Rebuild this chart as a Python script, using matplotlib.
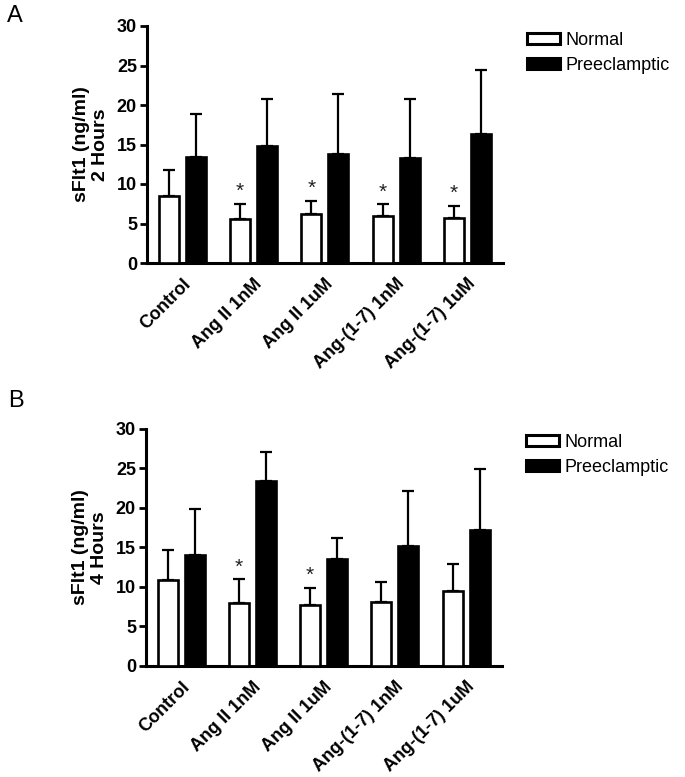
import matplotlib
matplotlib.use("Agg")
import matplotlib.pyplot as plt
import numpy as np
from matplotlib.patches import Patch

plt.rcParams['font.family'] = ['Liberation Sans', 'DejaVu Sans']

categories = ["Control", "Ang II 1nM", "Ang II 1uM", "Ang-(1-7) 1nM", "Ang-(1-7) 1uM"]
series_names = ["Normal", "Preeclamptic"]

# Panel A: 2 hours
a_normal = [8.5, 5.57, 6.16, 5.95, 5.66]
a_normal_err = [3.3, 1.9, 1.7, 1.5, 1.6]
a_pre = [13.45, 14.8, 13.76, 13.3, 16.3]
a_pre_err = [5.35, 6.0, 7.6, 7.5, 8.1]
a_star = [False, True, True, True, True]

# Panel B: 4 hours
b_normal = [10.86, 7.9, 7.69, 8.07, 9.5]
b_normal_err = [3.8, 3.04, 2.2, 2.53, 3.39]
b_pre = [14.07, 23.4, 13.48, 15.17, 17.2]
b_pre_err = [5.73, 3.7, 2.7, 7.0, 7.7]
b_star = [False, True, True, False, False]

yticks = [0, 5, 10, 15, 20, 25, 30]

W, H = 685, 777
fig = plt.figure(figsize=(W/100, H/100), dpi=100)

def draw(rect, normal, nerr, pre, perr, stars, ylabel, letter, letter_xy, leg_xy):
    ax = fig.add_axes(rect)
    x = np.arange(len(categories))
    off = 0.19
    bw = 0.28
    ax.bar(x - off, normal, bw, color='white', edgecolor='black', linewidth=1.9, zorder=3)
    ax.bar(x + off, pre, bw, color='black', edgecolor='black', linewidth=1.9, zorder=3)
    ax.errorbar(x - off, normal, yerr=[np.zeros(len(nerr)), nerr], fmt='none',
                ecolor='black', elinewidth=1.6, capsize=4, capthick=1.6, zorder=2)
    ax.errorbar(x + off, pre, yerr=[np.zeros(len(perr)), perr], fmt='none',
                ecolor='black', elinewidth=1.6, capsize=4, capthick=1.6, zorder=2)
    for i, s in enumerate(stars):
        if s:
            ax.text(x[i] - off, normal[i] + nerr[i] + 0.35, "*", ha='center', va='bottom',
                    fontsize=15, color='#222222')
    ax.set_xlim(-0.5, len(categories) - 0.5)
    ax.set_ylim(0, 30)
    ax.set_yticks(yticks)
    ax.set_yticklabels([str(t) for t in yticks], fontsize=13, fontweight='bold')
    ax.set_xticks(x)
    ax.set_xticklabels(categories, rotation=45, ha='right', rotation_mode='anchor',
                       fontsize=13, fontweight='bold')
    ax.tick_params(axis='x', length=0, pad=9)
    ax.tick_params(axis='y', length=5, width=2, pad=2)
    for sp in ['top', 'right']:
        ax.spines[sp].set_visible(False)
    for sp in ['left', 'bottom']:
        ax.spines[sp].set_linewidth(2.2)
    ax.set_ylabel(ylabel, fontsize=14, fontweight='bold', labelpad=6, linespacing=1.15)
    fig.text(letter_xy[0], letter_xy[1], letter, fontsize=17, ha='left', va='top')
    handles = [Patch(facecolor='white', edgecolor='black', linewidth=2.2),
               Patch(facecolor='black', edgecolor='black', linewidth=2.2)]
    fig.legend(handles, series_names, loc='upper left', bbox_to_anchor=leg_xy,
               frameon=False, fontsize=13, handlelength=1.8, handleheight=0.6,
               handletextpad=0.35, labelspacing=0.45, borderpad=0, borderaxespad=0)
    return ax

draw([146.7/W, 1 - 263/H, (503 - 146.7)/W, (263 - 26)/H], a_normal, a_normal_err, a_pre,
     a_pre_err, a_star, "sFlt1 (ng/ml)\n2 Hours", "A", (7/W, 1 - 5/H), (527/W, 1 - 32/H))
draw([145.7/W, 1 - 665.7/H, (501.7 - 145.7)/W, (665.7 - 429)/H], b_normal, b_normal_err, b_pre,
     b_pre_err, b_star, "sFlt1 (ng/ml)\n4 Hours", "B", (8/W, 1 - 390/H), (526/W, 1 - 434/H))

fig.savefig("out.png", dpi=100)
